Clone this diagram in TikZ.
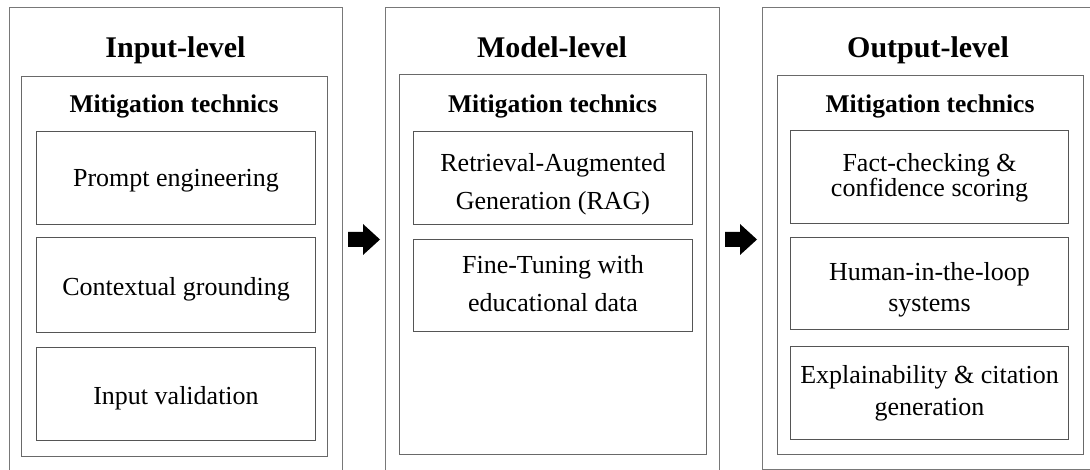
\documentclass[tikz,border=0pt]{standalone}
\usepackage{fontspec}
\setmainfont{Liberation Serif}
\definecolor{outerc}{RGB}{120,120,120}
\definecolor{innerc}{RGB}{105,105,105}
\definecolor{itemc}{RGB}{85,85,85}
\begin{document}
\begin{tikzpicture}[x=1pt,y=-1pt,
  outerbox/.style={draw=outerc, line width=1.3pt, inner sep=0pt, anchor=north west},
  innerbox/.style={draw=innerc, line width=1.2pt, inner sep=0pt, anchor=north west},
  itembox/.style={draw=itemc, line width=1pt, inner sep=0pt, anchor=north west},
  titletext/.style={font=\fontsize{30}{32}\selectfont\bfseries, inner sep=0pt, anchor=base},
  mittext/.style={font=\fontsize{25.5}{28}\selectfont\bfseries, inner sep=0pt, anchor=base},
  itemtext/.style={font=\fontsize{26}{#1}\selectfont, align=center, inner sep=0pt},
  itemtext/.default=30,
  blockarrow/.style={fill=black, draw=none}]
\useasboundingbox (0,0) rectangle (1090,470);
\clip (0,0) rectangle (1090,470);

% outer boxes
\node[outerbox, minimum width=333pt, minimum height=470pt] (in) at (9,7) {};
\node[outerbox, minimum width=334pt, minimum height=470pt] (mo) at (385,7) {};
\node[outerbox, minimum width=340pt, minimum height=462pt] (ou) at (762,7) {};

% titles
\node[titletext] (tin) at (175.5,57.5) {Input-level};
\node[titletext] (tmo) at (552,57.5) {Model-level};
\node[titletext] (tou) at (928,57.5) {Output-level};

% inner boxes
\node[innerbox, minimum width=306pt, minimum height=380pt] (inI) at (21,76) {};
\node[innerbox, minimum width=307pt, minimum height=380pt] (moI) at (399,74) {};
\node[innerbox, minimum width=306pt, minimum height=379pt] (ouI) at (777,75) {};

\node[mittext] (min) at (174,112.5) {Mitigation technics};
\node[mittext] (mmo) at (552.5,112.5) {Mitigation technics};
\node[mittext] (mou) at (930,112.5) {Mitigation technics};

% left items
\node[itembox, minimum width=279pt, minimum height=93pt] (a1) at (36,131) {};
\node[itembox, minimum width=279pt, minimum height=95pt] (a2) at (36,237) {};
\node[itembox, minimum width=279pt, minimum height=93pt] (a3) at (36,347) {};
\node[itemtext] (ta1) at ([yshift=-3pt]a1.center) {Prompt engineering};
\node[itemtext] (ta2) at ([yshift=-4pt]a2.center) {Contextual grounding};
\node[itemtext] (ta3) at ([yshift=-4pt]a3.center) {Input validation};

% middle items
\node[itembox, minimum width=279pt, minimum height=93pt] (b1) at (413,131) {};
\node[itembox, minimum width=279pt, minimum height=92pt] (b2) at (413,239) {};
\node[itemtext=38] (tb1) at ([yshift=-6pt]b1.center) {Retrieval-Augmented\\Generation (RAG)};
\node[itemtext=38] (tb2) at ([yshift=2pt]b2.center) {Fine-Tuning with\\educational data};

% right items
\node[itembox, minimum width=278pt, minimum height=93pt] (c1) at (790,130) {};
\node[itembox, minimum width=278pt, minimum height=92pt] (c2) at (790,237) {};
\node[itembox, minimum width=278pt, minimum height=93pt] (c3) at (790,346) {};
\node[itemtext=23.5] (tc1) at ([yshift=-1pt]c1.center) {Fact-checking \&\\confidence scoring};
\node[itemtext=31] (tc2) at ([yshift=-6pt]c2.center) {Human-in-the-loop\\systems};
\node[itemtext=32] (tc3) at (c3.center) {Explainability \& citation\\generation};

% block arrows between levels
\coordinate (ar1) at (348,239.5);
\coordinate (ar2) at (725,239.5);
\fill[blockarrow] (ar1) ++(0,-7.5) -- ++(15,0) -- ++(0,-8) -- ++(17,15.5) -- ++(-17,15.5) -- ++(0,-8) -- ++(-15,0) -- cycle;
\fill[blockarrow] (ar2) ++(0,-7.5) -- ++(15,0) -- ++(0,-8) -- ++(17,15.5) -- ++(-17,15.5) -- ++(0,-8) -- ++(-15,0) -- cycle;
\end{tikzpicture}
\end{document}
